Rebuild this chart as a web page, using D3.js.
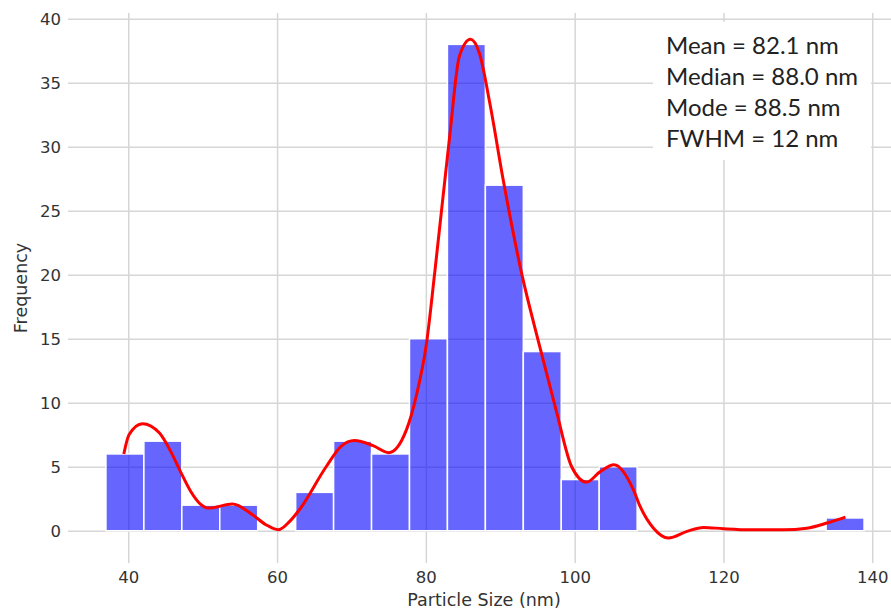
<!DOCTYPE html>
<html lang="en">
<head>
  <meta charset="UTF-8">
  <title>Particle Size Histogram</title>
  <script src="https://d3js.org/d3.v7.min.js"></script>
  <style>
    body { margin: 0; background: #fff; }
    .grid line { stroke: #d6d6d6; stroke-width: 1.5px; }
    .grid path { display: none; }
    .tick text { font: 16.5px "DejaVu Sans", sans-serif; fill: #333; }
    .bar { fill: #0000ff; fill-opacity: 0.6; stroke: #fff; stroke-width: 1.5px; }
    .kde { fill: none; stroke: #ff0000; stroke-width: 3px; }
    .label { font: 17.5px "DejaVu Sans", sans-serif; fill: #333; }
    .stats { font: 24px Lato, "Open Sans", sans-serif; fill: #222; }
  </style>
</head>
<body>
<div id="chart"></div>
<script>
// histogram bins (nm) and counts
const binEdges = [37.0, 42.1, 47.2, 52.3, 57.4, 62.5, 67.6, 72.7, 77.8, 82.9, 88.0,
                  93.1, 98.2, 103.3, 108.4, 113.4, 118.5, 123.6, 128.7, 133.8, 138.9];
const counts = [6, 7, 2, 2, 0, 3, 7, 6, 15, 38, 27, 14, 4, 5, 0, 0, 0, 0, 0, 1];

// kde curve
const kdeX = [39.4, 40.1, 41.9, 44.2, 45.7, 47.0, 48.4, 49.7, 50.8, 54.0, 56.7, 58.5, 60.2,
              61.7, 63.0, 66.6, 68.6, 70.4, 72.9, 75.0, 77.4, 78.7, 80.1, 81.2, 83.2,
              84.5, 86.0, 87.2, 88.6, 90.4, 92.8, 95.3, 97.6, 99.6, 101.6, 103.4, 105.3,
              107.9, 108.8, 110.6, 112.6, 115.1, 117.3, 120.0, 123.6, 128.1, 131.2, 133.9, 136.4];
const kdeY = [6.0, 7.5, 8.36, 7.63, 6.2, 4.64, 3.07, 2.08, 1.77, 2.08, 1.25, 0.47, 0.08,
              0.73, 1.64, 5.0, 6.6, 7.05, 6.65, 6.1, 7.9, 10.5, 14.7, 20.2, 30.8,
              37.05, 38.4, 37.3, 33.4, 27.4, 20.3, 14.4, 9.2, 5.0, 3.8, 4.6, 5.16,
              3.2, 1.9, 0.2, -0.57, -0.05, 0.26, 0.16, 0.08, 0.08, 0.2, 0.6, 1.07];

const xTicks = [40, 60, 80, 100, 120, 140];
const yTicks = [0, 5, 10, 15, 20, 25, 30, 35, 40];
const statLines = ["Mean = 82.1 nm", "Median = 88.0 nm", "Mode = 88.5 nm", "FWHM = 12 nm"];

const W = 891, H = 609;
const mLeft = 68, mRight = 902, mTop = 13, mBottom = 563;

const svg = d3.select("#chart").append("svg")
    .attr("width", W).attr("height", H);

const x = d3.scaleLinear().domain([31.9, 144]).range([mLeft, mRight]);
const y = d3.scaleLinear().domain([-2.52, 40.45]).range([mBottom, mTop]);

// grid + tick labels
const gx = svg.append("g").attr("class", "grid")
    .attr("transform", `translate(0,${mBottom})`)
    .call(d3.axisBottom(x).tickValues(xTicks).tickSize(-(mBottom - mTop)).tickPadding(5));
gx.selectAll(".tick text").attr("dy", "0.9em");

svg.append("g").attr("class", "grid")
    .attr("transform", `translate(${mLeft},0)`)
    .call(d3.axisLeft(y).tickValues(yTicks).tickSize(-(mRight - mLeft)).tickPadding(7));

// bars
const bins = counts.map((c, i) => ({x0: binEdges[i], x1: binEdges[i + 1], n: c}));
svg.selectAll("rect.bar")
    .data(bins)
    .enter()
    .append("rect")
    .attr("class", "bar")
    .attr("x", d => x(d.x0))
    .attr("width", d => x(d.x1) - x(d.x0))
    .attr("y", d => y(d.n))
    .attr("height", d => y(0) - y(d.n));

// kde line
const line = d3.line()
    .x(d => x(d[0]))
    .y(d => y(d[1]))
    .curve(d3.curveMonotoneX);
svg.append("path")
    .attr("class", "kde")
    .attr("d", line(kdeX.map((v, i) => [v, kdeY[i]])));

// axis labels
svg.append("text").attr("class", "label")
    .attr("x", 484).attr("y", 606)
    .attr("text-anchor", "middle")
    .text("Particle Size (nm)");

svg.append("text").attr("class", "label")
    .attr("transform", "translate(27,288) rotate(-90)")
    .attr("text-anchor", "middle")
    .text("Frequency");

// stats box
svg.append("rect")
    .attr("x", 653).attr("y", 22)
    .attr("width", 218).attr("height", 138)
    .attr("fill", "#fff");

svg.append("g").selectAll("text")
    .data(statLines)
    .enter()
    .append("text")
    .attr("class", "stats")
    .attr("x", 666)
    .attr("y", (d, i) => 54 + i * 31)
    .text(d => d);
</script>
</body>
</html>
